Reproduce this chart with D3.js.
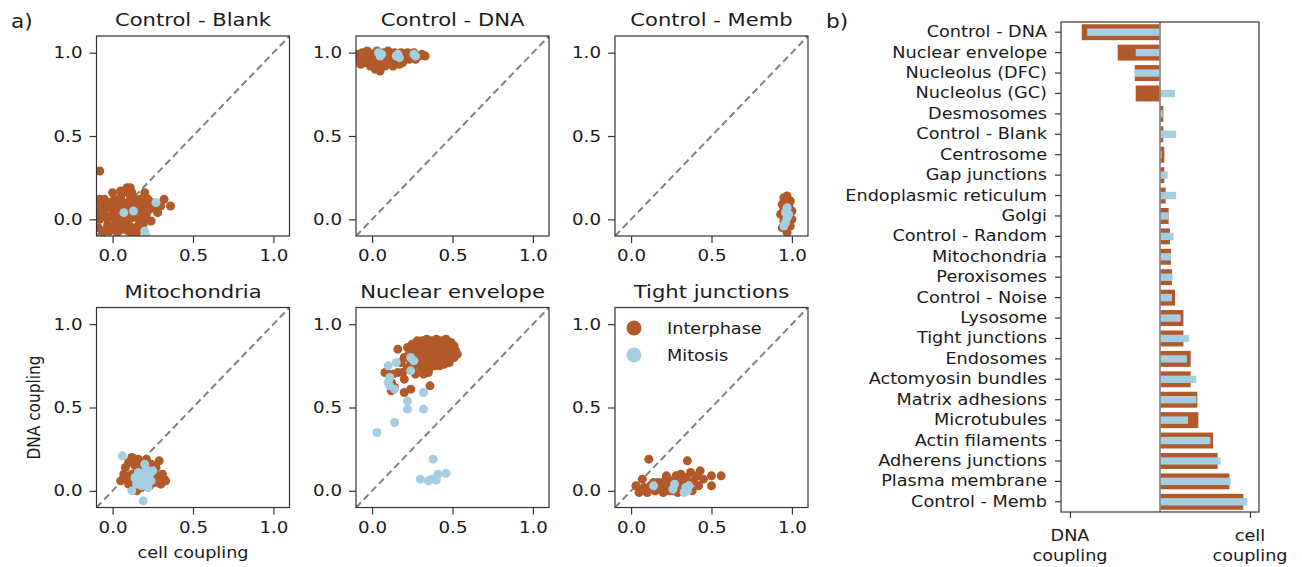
<html>
<head>
<style>
  body { margin: 0; background: #fff; font-family: "DejaVu Sans", sans-serif; }
  text { fill: #1a1a1a; }
</style>
<script src="https://cdn.jsdelivr.net/npm/d3@7"></script>
</head>
<body>
<svg id="fig" width="1302" height="567"></svg>
<script>
// ---- data: scatter panels (x = cell coupling, y = DNA coupling) ----
let panelTitles = ["Control - Blank", "Control - DNA", "Control - Memb", "Mitochondria", "Nuclear envelope", "Tight junctions"]
let seriesNames = ["Interphase", "Mitosis"]
let scatterTicks = [0, 0.5, 1.0]

let blankInter = [[-0.09,0.05],[-0.08,0.0],[-0.09,-0.05],[-0.07,0.09],[-0.06,-0.08],[-0.05,0.03],[-0.04,0.07],[-0.03,-0.03],[-0.02,0.1],[-0.02,-0.07],[-0.01,0.02],[0.0,0.06],[0.01,-0.04],[0.01,0.12],[0.02,0.0],[0.03,0.09],[0.03,-0.08],[0.04,0.04],[0.05,-0.02],[0.05,0.13],[0.06,0.07],[0.07,-0.06],[0.07,0.16],[0.08,0.02],[0.09,0.1],[0.09,0.19],[0.1,-0.03],[0.11,0.06],[0.11,0.14],[0.12,-0.08],[0.13,0.03],[0.13,0.1],[0.14,-0.05],[0.15,0.07],[0.16,0.0],[0.17,0.12],[0.18,0.04],[0.19,-0.03],[0.2,0.09],[0.21,0.03],[0.22,0.12],[0.23,0.06],[0.24,-0.01],[0.26,0.08],[0.28,0.04],[0.32,0.12],[0.36,0.08],[-0.08,0.29],[0.0,0.16],[0.12,0.16],[0.2,0.16],[0.1,-0.07],[0.15,-0.08],[-0.05,0.12],[0.06,0.1],[0.08,0.05],[0.02,0.08],[-0.03,0.0],[0.16,0.1],[0.18,0.07],[0.25,0.1],[0.12,0.01],[0.04,-0.05],[-0.07,0.04],[0.21,0.0],[0.3,0.08],[0.11,0.19],[-0.06,0.06],[-0.01,-0.05],[0.03,0.03],[0.06,0.01],[0.09,0.07],[0.14,0.12],[0.17,0.03],[0.2,0.05],[0.23,0.1],[-0.04,-0.06],[0.07,-0.02],[0.1,0.02],[0.16,-0.04],[0.0,0.1],[-0.08,0.12],[0.05,0.17]]
let blankMito = [[0.07,0.04],[0.13,0.05],[0.27,0.1],[0.2,-0.07],[0.21,-0.1]]

let dnaInter = [[-0.09,0.99],[-0.08,0.96],[-0.06,1.0],[-0.05,0.97],[-0.04,0.94],[-0.03,1.01],[-0.02,0.97],[-0.01,0.92],[0.0,0.99],[0.01,0.95],[0.02,0.9],[0.03,1.01],[0.03,0.93],[0.04,0.97],[0.05,0.89],[0.06,0.94],[0.07,1.0],[0.08,0.92],[0.09,0.97],[0.1,1.01],[0.11,0.94],[0.12,0.98],[0.13,0.92],[0.14,1.0],[0.15,0.95],[0.16,0.97],[0.18,1.0],[0.19,0.94],[0.2,0.97],[0.22,1.0],[0.23,0.96],[0.25,0.98],[0.26,1.0],[0.27,0.96],[0.29,0.98],[0.33,0.98],[-0.07,0.93],[0.0,0.95],[0.04,0.99],[0.1,0.96],[0.17,0.93],[0.21,0.99],[0.31,0.99]]
let dnaMito = [[0.04,1.0],[0.06,0.99],[0.05,0.98],[0.15,0.98],[0.17,0.97],[0.16,0.99],[0.26,0.99],[0.27,0.98]]

let membInter = [[0.97,0.14],[0.95,0.13],[0.99,0.11],[0.94,0.09],[0.98,0.08],[1.0,0.05],[0.93,0.03],[0.96,0.04],[1.0,0.0],[0.95,-0.01],[0.99,-0.04],[0.94,-0.05],[0.97,-0.08],[0.96,0.11],[0.98,0.02],[0.95,0.06]]
let membMito = [[0.97,0.07],[0.96,0.04],[0.97,0.01],[0.96,-0.02],[0.95,-0.04],[0.98,0.03]]

let mitoInter = [[0.07,0.1],[0.05,0.06],[0.08,0.14],[0.1,0.04],[0.1,0.17],[0.12,0.2],[0.12,0.1],[0.13,0.01],[0.14,0.15],[0.15,0.06],[0.16,0.19],[0.17,0.12],[0.18,0.02],[0.19,0.16],[0.2,0.08],[0.21,0.19],[0.22,0.13],[0.23,0.03],[0.24,0.16],[0.25,0.1],[0.26,0.05],[0.27,0.14],[0.28,0.09],[0.29,0.18],[0.3,0.04],[0.31,0.1],[0.32,0.07],[0.33,0.06],[0.09,0.07],[0.15,0.0]]
let mitoMito = [[0.06,0.21],[0.19,-0.06],[0.12,0.0],[0.15,0.04],[0.17,0.07],[0.19,0.1],[0.2,0.04],[0.21,0.13],[0.22,0.07],[0.23,0.1],[0.18,0.03],[0.24,0.06],[0.16,0.11],[0.2,0.16],[0.25,0.12],[0.14,0.08],[0.22,0.02]]

let nuclInter = [[0.22,0.86],[0.25,0.88],[0.28,0.9],[0.31,0.9],[0.34,0.91],[0.37,0.9],[0.4,0.91],[0.43,0.9],[0.46,0.91],[0.49,0.89],[0.51,0.87],[0.52,0.84],[0.53,0.82],[0.5,0.85],[0.47,0.87],[0.44,0.86],[0.41,0.87],[0.38,0.86],[0.35,0.87],[0.32,0.86],[0.29,0.86],[0.26,0.84],[0.23,0.82],[0.2,0.8],[0.24,0.78],[0.27,0.81],[0.3,0.82],[0.33,0.83],[0.36,0.82],[0.39,0.83],[0.42,0.82],[0.45,0.83],[0.48,0.82],[0.51,0.8],[0.46,0.79],[0.43,0.78],[0.4,0.79],[0.37,0.78],[0.34,0.79],[0.31,0.78],[0.28,0.77],[0.3,0.74],[0.33,0.75],[0.36,0.74],[0.39,0.75],[0.42,0.75],[0.45,0.76],[0.48,0.77],[0.35,0.71],[0.25,0.74],[0.22,0.74],[0.18,0.77],[0.16,0.85],[0.19,0.71],[0.16,0.71],[0.13,0.7],[0.1,0.7],[0.08,0.71],[0.12,0.65],[0.12,0.6],[0.14,0.62],[0.2,0.59],[0.24,0.61],[0.32,0.7],[0.36,0.63],[0.27,0.7],[0.2,0.67]]
let nuclMito = [[0.03,0.35],[0.14,0.41],[0.22,0.49],[0.22,0.54],[0.32,0.49],[0.32,0.59],[0.38,0.19],[0.3,0.07],[0.35,0.06],[0.37,0.07],[0.4,0.065],[0.41,0.1],[0.46,0.105],[0.1,0.75],[0.11,0.68],[0.1,0.65],[0.14,0.61],[0.15,0.77],[0.24,0.8],[0.26,0.78],[0.24,0.72],[0.11,0.63]]

let tightInter = [[0.03,0.03],[0.05,-0.01],[0.07,0.07],[0.1,-0.01],[0.11,0.19],[0.12,0.03],[0.15,0.0],[0.17,0.05],[0.19,0.02],[0.2,-0.01],[0.21,0.06],[0.23,0.03],[0.24,0.0],[0.25,0.06],[0.27,0.02],[0.28,0.09],[0.29,-0.01],[0.3,0.04],[0.31,0.1],[0.32,0.06],[0.33,0.01],[0.34,0.08],[0.35,0.18],[0.36,0.04],[0.37,0.11],[0.38,0.0],[0.39,0.06],[0.41,0.09],[0.42,0.03],[0.43,0.12],[0.45,0.07],[0.5,0.09],[0.5,0.03],[0.56,0.09],[0.26,0.0],[0.22,0.09],[0.14,0.05],[0.08,0.02]]
let tightMito = [[0.14,0.03],[0.26,0.01],[0.27,0.04],[0.33,-0.01],[0.34,0.02],[0.36,0.03],[0.35,0.0]]

let panelInter = [blankInter, dnaInter, membInter, mitoInter, nuclInter, tightInter]
let panelMito = [blankMito, dnaMito, membMito, mitoMito, nuclMito, tightMito]

// ---- data: bar chart ----
let barLabels = ["Control - DNA", "Nuclear envelope", "Nucleolus (DFC)", "Nucleolus (GC)", "Desmosomes", "Control - Blank", "Centrosome", "Gap junctions", "Endoplasmic reticulum", "Golgi", "Control - Random", "Mitochondria", "Peroxisomes", "Control - Noise", "Lysosome", "Tight junctions", "Endosomes", "Actomyosin bundles", "Matrix adhesions", "Microtubules", "Actin filaments", "Adherens junctions", "Plasma membrane", "Control - Memb"]
let barInterphase = [-0.87, -0.47, -0.28, -0.27, 0.037, 0.037, 0.048, 0.048, 0.063, 0.096, 0.11, 0.122, 0.133, 0.167, 0.26, 0.26, 0.341, 0.341, 0.415, 0.426, 0.589, 0.641, 0.771, 0.926]
let barMitosis = [-0.81, -0.27, -0.28, 0.167, 0.03, 0.18, 0.02, 0.085, 0.18, 0.096, 0.152, 0.122, 0.14, 0.133, 0.23, 0.322, 0.3, 0.404, 0.404, 0.311, 0.56, 0.674, 0.785, 0.97]
let barTickValues = [-1, 1]
let barTickLabels = [["DNA", "coupling"], ["cell", "coupling"]]

// ---- look ----
let colInter = "#b15928"
let colMito = "#a6cee3"
let SX = 1.14   // text in the figure is stretched horizontally
let dotR = 4.5

let svg = d3.select("#fig")

function label(g, x, y, str, size, anchor, rotated) {
  let tr = rotated ? `translate(${x},${y}) rotate(-90) scale(1,${SX})` : `translate(${x},${y}) scale(${SX},1)`
  return g.append("text")
    .attr("transform", tr)
    .attr("text-anchor", anchor || "start")
    .style("font-size", size + "px")
    .text(str)
}

// ---- scatter panels ----
let cols = [96.5, 356, 615], rows = [36, 307.5]
let pw = 193, ph = 200

panelTitles.forEach((title, i) => {
  let left = cols[i % 3], top = rows[Math.floor(i / 3)]
  let x = d3.scaleLinear().domain([-0.1, 1.1]).range([0, pw])
  let y = d3.scaleLinear().domain([-0.1, 1.1]).range([ph, 0])
  let g = svg.append("g").attr("transform", `translate(${left},${top})`)

  g.append("clipPath").attr("id", "clip" + i)
    .append("rect").attr("width", pw).attr("height", ph)
  let body = g.append("g").attr("clip-path", `url(#clip${i})`)

  body.append("line")
    .attr("x1", x(-0.1)).attr("y1", y(-0.1)).attr("x2", x(1.1)).attr("y2", y(1.1))
    .attr("stroke", "#808080").attr("stroke-width", 2).attr("stroke-dasharray", "7,4")

  body.selectAll(".inter").data(panelInter[i]).enter().append("circle")
    .attr("cx", d => x(d[0])).attr("cy", d => y(d[1])).attr("r", dotR).attr("fill", colInter)
  body.selectAll(".mito").data(panelMito[i]).enter().append("circle")
    .attr("cx", d => x(d[0])).attr("cy", d => y(d[1])).attr("r", dotR).attr("fill", colMito)

  let ax = g.append("g").attr("transform", `translate(0,${ph})`)
    .call(d3.axisBottom(x).tickValues(scatterTicks).tickFormat(d3.format(".1f")).tickSize(7).tickPadding(7))
  let ay = g.append("g")
    .call(d3.axisLeft(y).tickValues(scatterTicks).tickFormat(d3.format(".1f")).tickSize(7).tickPadding(7))
  ;[ax, ay].forEach(a => {
    a.select(".domain").remove()
    a.selectAll("line").attr("stroke", "#333").attr("stroke-width", 1.2)
    a.selectAll("text").style("font-size", "16px").style("font-family", "DejaVu Sans").attr("fill", "#1a1a1a")
  })
  ax.selectAll("text").attr("transform", `scale(${SX},1)`)
  ay.selectAll("text").attr("transform", `scale(${SX},1)`).attr("x", -14 / SX)

  g.append("rect").attr("width", pw).attr("height", ph)
    .attr("fill", "none").attr("stroke", "#333").attr("stroke-width", 1.2)

  label(g, pw / 2, -10, title, 18.5, "middle")

  if (i === 5) {
    seriesNames.forEach((s, k) => {
      g.append("circle").attr("cx", 19).attr("cy", 20.5 + k * 27).attr("r", 7.5)
        .attr("fill", k === 0 ? colInter : colMito)
      label(g, 52, 26 + k * 27, s, 15.5, "start")
    })
  }
})

label(svg, 39.5, rows[1] + ph / 2, "DNA coupling", 15.4, "middle", true)
label(svg, cols[0] + pw / 2, 558, "cell coupling", 15.5, "middle")
label(svg, 11, 28, "a)", 19, "start")
label(svg, 826, 28, "b)", 19, "start")

// ---- bar chart ----
let bLeft = 1061, bRight = 1259, bTop = 22, bBottom = 512
let xBar = d3.scaleLinear().domain([-1.1, 1.1]).range([bLeft, bRight])
let yBar = d3.scaleBand().domain(barLabels).range([bTop, bBottom])
let step = yBar.bandwidth()
let bars = svg.append("g")

bars.selectAll(".binter").data(barLabels).enter().append("rect")
  .attr("x", (d, i) => xBar(Math.min(0, barInterphase[i])))
  .attr("width", (d, i) => Math.abs(xBar(barInterphase[i]) - xBar(0)))
  .attr("y", d => yBar(d) + step * (1 - 0.78) / 2)
  .attr("height", step * 0.78)
  .attr("fill", colInter)
bars.selectAll(".bmito").data(barLabels).enter().append("rect")
  .attr("x", (d, i) => xBar(Math.min(0, barMitosis[i])))
  .attr("width", (d, i) => Math.abs(xBar(barMitosis[i]) - xBar(0)))
  .attr("y", d => yBar(d) + step * (1 - 0.36) / 2)
  .attr("height", step * 0.36)
  .attr("fill", colMito)

svg.append("line")
  .attr("x1", xBar(0)).attr("x2", xBar(0)).attr("y1", bTop).attr("y2", bBottom)
  .attr("stroke", "#8c8c8c").attr("stroke-width", 1.8)

let byAxis = svg.append("g").attr("transform", `translate(${bLeft},0)`)
  .call(d3.axisLeft(yBar).tickSize(6).tickPadding(8))
let bxAxis = svg.append("g").attr("transform", `translate(0,${bBottom})`)
  .call(d3.axisBottom(xBar).tickValues(barTickValues).tickFormat(() => "").tickSize(6))
;[byAxis, bxAxis].forEach(a => {
  a.select(".domain").remove()
  a.selectAll("line").attr("stroke", "#333").attr("stroke-width", 1.2)
})
byAxis.selectAll("text").style("font-size", "15.5px").style("font-family", "DejaVu Sans")
  .attr("fill", "#1a1a1a").attr("transform", `scale(${SX},1)`).attr("x", -14 / SX)

barTickValues.forEach((v, i) => {
  barTickLabels[i].forEach((line, k) => {
    label(svg, xBar(v), 541 + k * 20, line, 15.5, "middle")
  })
})

svg.append("rect").attr("x", bLeft).attr("y", bTop)
  .attr("width", bRight - bLeft).attr("height", bBottom - bTop)
  .attr("fill", "none").attr("stroke", "#333").attr("stroke-width", 1.2)
</script>
</body>
</html>
